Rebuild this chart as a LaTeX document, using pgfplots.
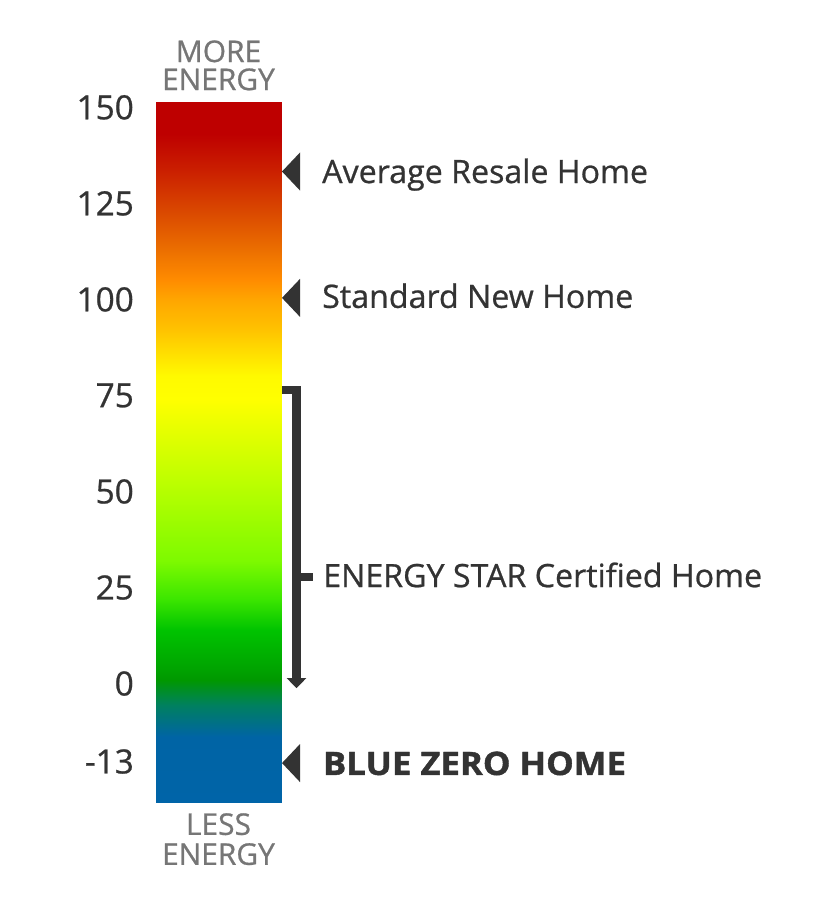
\documentclass[border=0pt]{standalone}
\usepackage{fontspec}
\setmainfont{Open Sans}
\newfontface\semib{Open Sans}[FakeBold=0.7]
\newfontface\xbold{Open Sans Bold}[FakeBold=1.2]
\usepackage{pgfplots}
\pgfplotsset{compat=1.18}
\usetikzlibrary{arrows.meta}
\definecolor{txt}{RGB}{51,51,51}
\definecolor{lbl}{RGB}{118,118,118}
\begin{document}
\begin{tikzpicture}[x=1bp,y=1bp]
\path[fill=white] (0,0) rectangle (840,907);
\begin{axis}[
  at={(156bp,104bp)}, anchor=south west,
  scale only axis, width=125bp, height=701bp,
  xmin=0, xmax=1, ymin=-31.1, ymax=151.4,
  clip=false,
  axis line style={draw=none},
  tick style={draw=none},
  xtick=\empty,
  ytick={150,125,100,75,50,25,0,-20.3},
  yticklabels={150,125,100,75,50,25,0,-13},
  yticklabel style={font=\semib\fontsize{33.5}{33.5}\selectfont, text=txt, inner sep=0pt, xshift=-22bp},
  /pgf/number format/assume math mode=true,
  colormap={hers}{
    rgb255(0pt)=(0,100,168);
    rgb255(171pt)=(0,100,165);
    rgb255(255pt)=(0,128,95);
    rgb255(321pt)=(0,152,0);
    rgb255(346pt)=(0,162,0);
    rgb255(451pt)=(0,195,0);
    rgb255(531pt)=(60,230,0);
    rgb255(631pt)=(125,250,0);
    rgb255(841pt)=(190,255,0);
    rgb255(1051pt)=(255,255,0);
    rgb255(1111pt)=(255,250,0);
    rgb255(1231pt)=(255,195,0);
    rgb255(1311pt)=(255,165,0);
    rgb255(1361pt)=(255,140,0);
    rgb255(1441pt)=(235,110,0);
    rgb255(1541pt)=(218,72,0);
    rgb255(1651pt)=(202,30,0);
    rgb255(1741pt)=(190,0,0);
    rgb255(1825pt)=(190,0,0)
  },
  point meta min=-31.1, point meta max=151.4,
]
% gradient bar
\addplot[surf, shader=interp, mesh/cols=2, point meta=y] coordinates {
(0,-31.1) (1,-31.1)
(0,-14) (1,-14)
(0,-5.6) (1,-5.6)
(0,1) (1,1)
(0,3.5) (1,3.5)
(0,14) (1,14)
(0,22) (1,22)
(0,32) (1,32)
(0,53) (1,53)
(0,74) (1,74)
(0,80) (1,80)
(0,92) (1,92)
(0,100) (1,100)
(0,105) (1,105)
(0,113) (1,113)
(0,123) (1,123)
(0,134) (1,134)
(0,143) (1,143)
(0,151.4) (1,151.4)
};
% pointer triangles
\addplot[fill=txt, draw=none] coordinates {(1.008,133.3) (1.152,138.25) (1.152,128.35)};
\addplot[fill=txt, draw=none] coordinates {(1.008,100.4) (1.152,105.35) (1.152,95.45)};
\addplot[fill=txt, draw=none] coordinates {(1.008,-20.7) (1.152,-15.75) (1.152,-25.65)};
% ENERGY STAR bracket
\addplot[txt, line width=8.5bp, line join=miter, -{Triangle[width=19bp,length=10bp]}] coordinates {(1.008,76.4) (1.124,76.4) (1.124,-1.2)};
\addplot[txt, line width=8bp] coordinates {(1.124,27.7) (1.256,27.7)};
% labels
\node[anchor=base west, inner sep=0pt, text=txt, font=\semib\fontsize{32.3}{32.3}\selectfont] at (axis cs:1.328,130.3) {Average Resale Home};
\node[anchor=base west, inner sep=0pt, text=txt, font=\semib\fontsize{32.3}{32.3}\selectfont] at (axis cs:1.328,97.8) {Standard New Home};
\node[anchor=base west, inner sep=0pt, text=txt, font=\semib\fontsize{32.3}{32.3}\selectfont] at (axis cs:1.336,25.1) {ENERGY STAR Certified Home};
\node[anchor=base west, inner sep=0pt, text=txt, font=\xbold\fontsize{32.3}{32.3}\selectfont, xscale=1.08] at (axis cs:1.334,-23.8) {BLUE ZERO HOME};
\node[anchor=base, inner sep=0pt, text=lbl, font=\semib\fontsize{30}{30}\selectfont] at (axis cs:0.5,161.8) {MORE};
\node[anchor=base, inner sep=0pt, text=lbl, font=\semib\fontsize{30}{30}\selectfont] at (axis cs:0.5,154.5) {ENERGY};
\node[anchor=base, inner sep=0pt, text=lbl, font=\semib\fontsize{30}{30}\selectfont] at (axis cs:0.5,-39.4) {LESS};
\node[anchor=base, inner sep=0pt, text=lbl, font=\semib\fontsize{30}{30}\selectfont] at (axis cs:0.5,-47.2) {ENERGY};
\end{axis}
\end{tikzpicture}
\end{document}
